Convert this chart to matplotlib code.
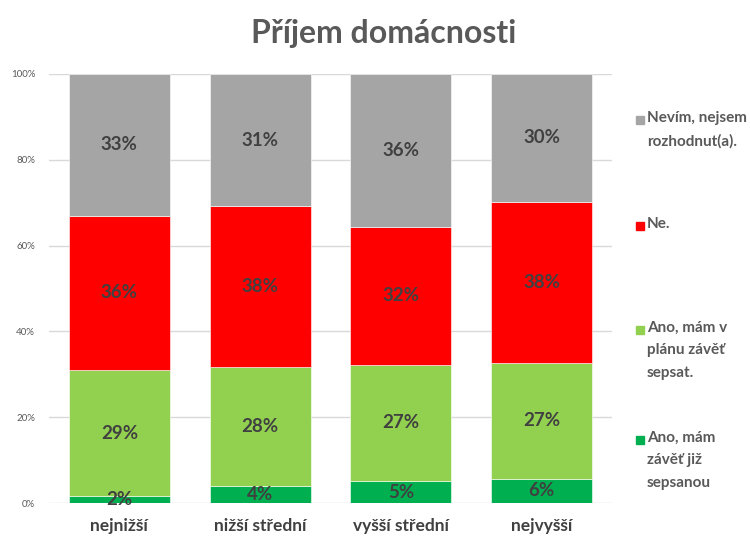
import matplotlib.pyplot as plt
from matplotlib.patches import Rectangle

plt.rcParams['font.family'] = ['Lato', 'DejaVu Sans']

categories = ['nejnižší', 'nižší střední', 'vyšší střední', 'nejvyšší']
series_names = ['Ano, mám\nzávěť již\nsepsanou',
                'Ano, mám v\nplánu závěť\nsepsat.',
                'Ne.',
                'Nevím, nejsem\nrozhodnut(a).']
already = [1.6, 4.0, 5.1, 5.7]
planning = [29.4, 27.7, 27.1, 27.0]
no = [36.0, 37.5, 32.2, 37.5]
unsure = [33.0, 30.8, 35.6, 29.8]
labels = [[2, 4, 5, 6], [29, 28, 27, 27], [36, 38, 32, 38], [33, 31, 36, 30]]
colors = ['#00B050', '#92D050', '#FF0000', '#A5A5A5']

fig = plt.figure(figsize=(7.5, 5.37), dpi=100)
ax = fig.add_axes([0.0653, 0.0633, 0.7507, 0.7989])

x = range(len(categories))
bottom = [0.0] * len(categories)
for vals, lab, col in zip([already, planning, no, unsure], labels, colors):
    ax.bar(x, vals, width=0.716, bottom=bottom, color=col,
           edgecolor='white', linewidth=0.4, zorder=2)
    for i, (v, b, l) in enumerate(zip(vals, bottom, lab)):
        ax.text(i, b + v / 2, f'{l}%', ha='center', va='center',
                fontsize=13.5, fontweight='bold', color='#404040', zorder=3)
    bottom = [b + v for b, v in zip(bottom, vals)]

ax.set_xlim(-0.5, 3.5)
ax.set_ylim(0, 100)
ax.set_yticks([0, 20, 40, 60, 80, 100])
ax.set_yticklabels([f'{t}%' for t in range(0, 101, 20)])
ax.set_xticks(list(x))
ax.set_xticklabels(categories)
ax.tick_params(axis='y', length=0, labelsize=7, labelcolor='#595959', pad=10)
ax.tick_params(axis='x', length=0, labelsize=12.5, labelcolor='#404040', pad=11)
for t in ax.get_xticklabels():
    t.set_fontweight('bold')
ax.grid(axis='y', color='#D9D9D9', linewidth=1, zorder=0)
for s in ax.spines.values():
    s.set_visible(False)

fig.text(0.511, 0.938, 'Příjem domácnosti', ha='center', va='center',
         fontsize=23, fontweight='bold', color='#595959')

# legend drawn by hand, top entry first
leg_y = [120, 226, 330, 440]
for name, col, yy in zip(series_names[::-1], colors[::-1], leg_y):
    fy = 1 - yy / 537
    fig.patches.append(Rectangle((636 / 750, fy - 4 / 537), 8 / 750, 8 / 537,
                                 transform=fig.transFigure, color=col))
    fig.text(647 / 750, fy + 9 / 537, name, ha='left', va='top', fontsize=11,
             fontweight='bold', color='#595959', linespacing=1.75)

fig.savefig('out.png', dpi=100)
